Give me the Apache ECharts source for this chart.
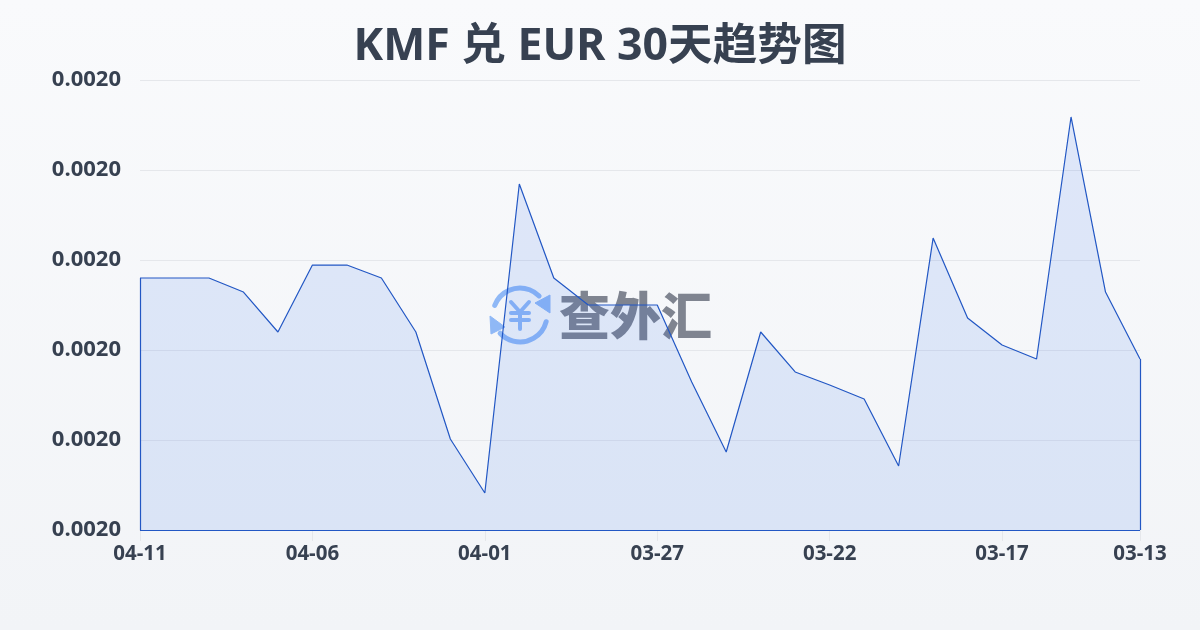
<!DOCTYPE html>
<html><head><meta charset="utf-8">
<style>html,body{margin:0;padding:0;width:1200px;height:630px;overflow:hidden}#c{width:1200px;height:630px}</style>
<script src="https://cdn.jsdelivr.net/npm/echarts@6/dist/echarts.min.js"></script>
</head><body><div id="c"></div>
<script>
const titleText = 'KMF 兑 EUR 30天趋势图';
const watermarkText = '查外汇';
const categories = ['04-11','04-10','04-09','04-08','04-07','04-06','04-05','04-04','04-03','04-02','04-01','03-31','03-30','03-29','03-28','03-27','03-26','03-25','03-24','03-23','03-22','03-21','03-20','03-19','03-18','03-17','03-16','03-15','03-14','03-13'];
const rates = [0.002008,0.002008,0.002008,0.00200644,0.002002,0.00200944,0.00200944,0.002008,0.002002,0.00199011,0.00198411,0.00201844,0.002008,0.002005,0.002005,0.002005,0.00199644,0.00198867,0.002002,0.00199756,0.00199611,0.00199456,0.00198711,0.00201244,0.00200356,0.00200056,0.001999,0.00202589,0.00200644,0.001999];
const yMin = 0.00198, yMax = 0.00203, yStep = 0.00001;

const chart = echarts.init(document.getElementById('c'), null, {renderer:'canvas'});
const lineColor = '#2257c4';
const logo = '#8fb8f6';
const cx = 520, cy = 315;
const sans = '"Open Sans","Noto Sans CJK SC",sans-serif';
const yenStyle = {stroke:logo,lineWidth:4,fill:null,lineCap:'round',lineJoin:'round'};
chart.setOption({
  animation:false,
  backgroundColor:{type:'linear',x:0,y:0,x2:0,y2:1,colorStops:[{offset:0,color:'#f9fafc'},{offset:1,color:'#f2f4f7'}]},
  title:{text:titleText,left:'center',top:20,textStyle:{fontFamily:sans,fontWeight:'bold',fontSize:44.6,color:'#374151'}},
  grid:{left:140,right:60,top:80,bottom:100,containLabel:false},
  xAxis:{type:'category',boundaryGap:false,data:categories,
    axisLine:{show:true,lineStyle:{color:'#e5e7eb'}},
    axisTick:{show:true,length:11,lineStyle:{color:'#e5e7eb'},interval:(i)=>i%5===0||i===categories.length-1},
    axisLabel:{show:true,margin:14,color:'#374151',fontSize:20.5,fontWeight:'bold',fontFamily:sans,
      interval:(i)=>i%5===0||i===categories.length-1,hideOverlap:false},
    splitLine:{show:false}},
  yAxis:{type:'value',min:yMin,max:yMax,interval:yStep,
    axisLine:{show:false},axisTick:{show:false},
    axisLabel:{margin:19,color:'#374151',fontSize:22,fontWeight:'bold',fontFamily:sans,formatter:(v)=>v.toFixed(4)},
    splitLine:{show:true,lineStyle:{color:'#e5e7eb',width:1}}},
  graphic:[
    {type:'arc',z:0,shape:{cx,cy,r:27,startAngle:-2.78,endAngle:-0.785},style:{stroke:logo,lineWidth:5,fill:null,lineCap:'round'}},
    {type:'arc',z:0,shape:{cx,cy,r:27,startAngle:0.25,endAngle:2.4},style:{stroke:logo,lineWidth:5,fill:null,lineCap:'round'}},
    {type:'polygon',z:0,shape:{points:[[550,295],[550,313],[535,303]]},style:{fill:logo,stroke:logo,lineWidth:1}},
    {type:'polygon',z:0,shape:{points:[[490,316],[491,334],[505,327]]},style:{fill:logo,stroke:logo,lineWidth:1}},
    {type:'polyline',z:0,shape:{points:[[511,302],[520,312],[529,302]]},style:yenStyle},
    {type:'line',z:0,shape:{x1:511,y1:313,x2:529,y2:313},style:yenStyle},
    {type:'line',z:0,shape:{x1:511,y1:320,x2:529,y2:320},style:yenStyle},
    {type:'line',z:0,shape:{x1:520,y1:312,x2:520,y2:329},style:yenStyle},
    {type:'text',z:0,left:559,top:290,style:{text:watermarkText,font:'900 51px "Noto Sans CJK SC"',fill:'#7f8490'}}
  ],
  series:[{type:'line',data:rates,symbol:'none',smooth:false,z:3,
    lineStyle:{color:lineColor,width:1.2},
    areaStyle:{color:'rgba(37,99,235,0.17)'},
    markLine:{silent:true,symbol:'none',animation:false,label:{show:false},lineStyle:{color:lineColor,width:1.2,type:'solid'},
      data:[
        [{coord:[categories[0],yMin]},{coord:[categories[0],rates[0]]}],
        [{coord:[categories[0],yMin]},{coord:[categories[categories.length-1],yMin]}],
        [{coord:[categories[categories.length-1],yMin]},{coord:[categories[categories.length-1],rates[rates.length-1]]}]
      ]}
  }]
});
</script></body></html>
